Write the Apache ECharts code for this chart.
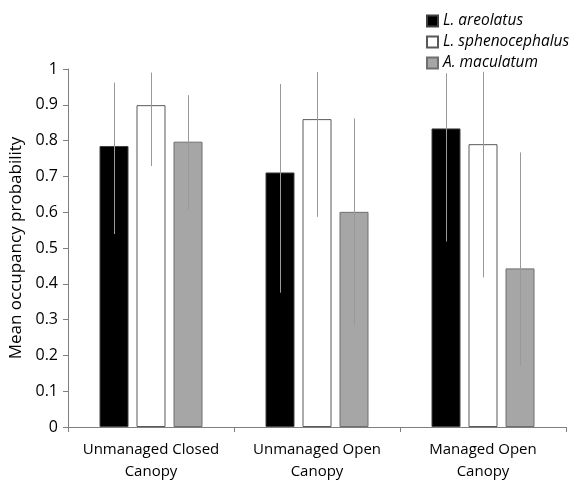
<!DOCTYPE html>
<html>
<head>
<meta charset="utf-8">
<script src="https://cdn.jsdelivr.net/npm/echarts@6/dist/echarts.min.js"></script>
<style>
  html, body { margin: 0; padding: 0; background: #fff; }
  #chart { width: 573px; height: 481px; }
</style>
</head>
<body>
<div id="chart"></div>
<script>
// categories and species
const categories = ['Unmanaged Closed\nCanopy', 'Unmanaged Open\nCanopy', 'Managed Open\nCanopy'];
const species = ['L. areolatus', 'L. sphenocephalus', 'A. maculatum'];

// mean occupancy probability
const areolatus = [0.785, 0.711, 0.834];
const sphenocephalus = [0.899, 0.860, 0.790];
const maculatum = [0.797, 0.601, 0.443];

// error bars (low, high)
const areolatusErr = [[0.539, 0.962], [0.375, 0.958], [0.518, 0.988]];
const sphenocephalusErr = [[0.729, 0.990], [0.587, 0.992], [0.418, 0.992]];
const maculatumErr = [[0.606, 0.927], [0.283, 0.862], [0.170, 0.767]];

const yTicks = [0, 0.1, 0.2, 0.3, 0.4, 0.5, 0.6, 0.7, 0.8, 0.9, 1];

const chart = echarts.init(document.getElementById('chart'));

const barW = 29;
const gap = 8;

// 误差线用 custom series 画，按柱子偏移
function errSeries(name, errs, offsetIdx) {
  return {
    type: 'custom',
    name: name + ' err',
    z: 10,
    silent: true,
    data: errs.map((e, i) => [i, e[0], e[1]]),
    renderItem: function (params, api) {
      const lo = api.coord([api.value(0), api.value(1)]);
      const hi = api.coord([api.value(0), api.value(2)]);
      const x = Math.round(lo[0] + offsetIdx * (barW + gap)) + 0.5;
      return {
        type: 'line',
        shape: { x1: x, y1: lo[1], x2: x, y2: hi[1] },
        style: { stroke: '#999', lineWidth: 1 }
      };
    }
  };
}

const option = {
  animation: false,
  textStyle: { fontFamily: 'Open Sans' },
  grid: { left: 68, right: 7, top: 69, bottom: 54, outerBoundsMode: 'none' },
  legend: {
    orient: 'vertical',
    left: 421,
    top: 6,
    icon: 'rect',
    itemWidth: 11,
    itemHeight: 11,
    itemGap: 1,
    data: species,
    textStyle: { fontSize: 15.5, lineHeight: 20, fontStyle: 'italic', color: '#000' }
  },
  xAxis: {
    type: 'category',
    data: categories,
    axisLine: { lineStyle: { color: '#7f7f7f' } },
    axisTick: { show: true, interval: 0, length: 5, lineStyle: { color: '#7f7f7f' } },
    axisLabel: { color: '#000', fontSize: 15, lineHeight: 22, margin: 12, interval: 0, hideOverlap: false }
  },
  yAxis: {
    type: 'value',
    min: 0,
    max: 1,
    interval: 0.1,
    name: 'Mean occupancy probability',
    nameLocation: 'middle',
    nameGap: 32,
    nameTextStyle: { fontSize: 17, color: '#000' },
    splitLine: { show: false },
    axisLine: { show: true, lineStyle: { color: '#7f7f7f' } },
    axisTick: { show: true, length: 5, lineStyle: { color: '#7f7f7f' } },
    axisLabel: {
      color: '#000', fontSize: 16, margin: 10,
      formatter: function (v) {
        const t = yTicks.find(k => Math.abs(k - v) < 1e-6);
        return t === undefined ? '' : String(t);
      }
    }
  },
  series: [
    {
      name: species[0], type: 'bar', data: areolatus,
      barWidth: barW, barGap: (gap / barW * 100) + '%',
      itemStyle: { color: '#000', borderColor: '#404040', borderWidth: 1 }
    },
    {
      name: species[1], type: 'bar', data: sphenocephalus,
      barWidth: barW,
      itemStyle: { color: '#fff', borderColor: '#595959', borderWidth: 1 }
    },
    {
      name: species[2], type: 'bar', data: maculatum,
      barWidth: barW,
      itemStyle: { color: '#a6a6a6', borderColor: '#6f6f6f', borderWidth: 1 }
    },
    errSeries(species[0], areolatusErr, -1),
    errSeries(species[1], sphenocephalusErr, 0),
    errSeries(species[2], maculatumErr, 1)
  ]
};

chart.setOption(option);
</script>
</body>
</html>
